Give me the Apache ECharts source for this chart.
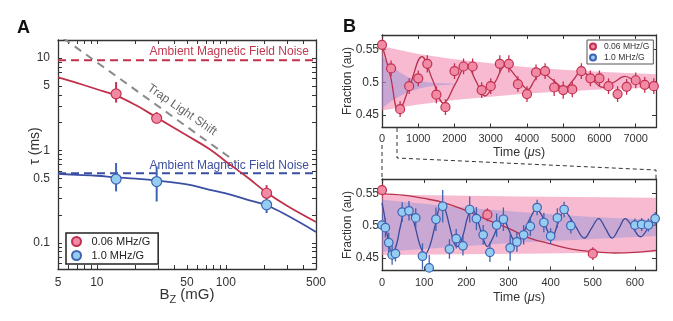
<!DOCTYPE html>
<html><head><meta charset="utf-8">
<script src="https://cdn.jsdelivr.net/npm/echarts@6/dist/echarts.min.js"></script>
<style>html,body{margin:0;padding:0;background:#fff}#c{width:673px;height:321px}</style>
</head><body><div id="c"></div>
<script>
const L = Math.log10;
const FONT = 'Liberation Sans, Arial, Helvetica, sans-serif';

// ---------- Panel A data ----------
const bzMeas = [14.1, 29.1, 207];
const tauRed = [4.1, 2.23, 0.344];
const tauRedLo = [3.3, 1.96, 0.30];
const tauRedHi = [5.5, 2.6, 0.42];
const tauBlue = [0.49, 0.46, 0.258];
const tauBlueLo = [0.36, 0.28, 0.21];
const tauBlueHi = [0.73, 0.67, 0.31];
const bzFit = [5, 7, 10, 14, 20, 29, 50, 75, 100, 150, 207, 300, 500];
const tauFitRed = [6.2, 5.4, 4.6, 3.95, 3.1, 2.28, 1.45, 1.03, 0.76, 0.5, 0.35, 0.25, 0.168];
const tauFitBlue = [0.556, 0.545, 0.532, 0.512, 0.495, 0.472, 0.428, 0.375, 0.342, 0.29, 0.255, 0.197, 0.131];
const bzTrap = [5.5, 120];
const tauTrap = [16.4, 0.75];
const noiseRed = 9.5;
const noiseBlue = 0.565;
const bzRange = [5, 500];
const tauRange = [0.052, 15.7];
const bzLabels = [5, 10, 50, 100, 500];
const bzTicks = [5,6,7,8,9,10,20,30,40,50,60,70,80,90,100,200,300,400,500];
const tauLabels = [0.1, 0.5, 1, 5, 10];
const tauTicks = [0.06,0.07,0.08,0.09,0.1,0.2,0.3,0.4,0.5,0.6,0.7,0.8,0.9,1,2,3,4,5,6,7,8,9,10];

// ---------- Panel B upper data ----------
const tUp = [0,250,500,750,1000,1250,1500,1750,2000,2250,2500,2750,3000,3250,3500,3750,4000,4250,4500,4750,5000,5250,5500,5750,6000,6250,6500,6750,7000,7250,7500];
const fracUp = [0.557,0.521,0.459,0.494,0.506,0.528,0.481,0.462,0.517,0.524,0.524,0.488,0.494,0.528,0.528,0.497,0.482,0.515,0.517,0.492,0.488,0.489,0.517,0.506,0.506,0.494,0.482,0.493,0.503,0.496,0.494];
const errUp = [0.010,0.012,0.012,0.012,0.012,0.013,0.013,0.012,0.012,0.012,0.012,0.012,0.012,0.013,0.013,0.012,0.012,0.012,0.012,0.013,0.013,0.012,0.012,0.012,0.012,0.012,0.012,0.012,0.012,0.012,0.012];
const tFitUp = [0,230,460,780,1100,1400,1700,2020,2340,2590,2840,3120,3400,3720,4030,4200,4400,4720,5040,5270,5500,5800,6100,6400,6700,6980,7250,7560];
const fitUp = [0.557,0.51,0.456,0.497,0.539,0.503,0.468,0.497,0.526,0.502,0.479,0.5,0.525,0.507,0.489,0.502,0.515,0.503,0.491,0.503,0.517,0.504,0.492,0.5,0.509,0.502,0.496,0.501];
const tEnvRedUp = [0,1000,2000,3000,4000,5000,6000,7560];
const envRedUpLo = [0.457,0.466,0.473,0.478,0.483,0.486,0.489,0.492];
const envRedUpHi = [0.555,0.543,0.535,0.529,0.523,0.519,0.516,0.512];
const tEnvBlueUp = [0,250,500,750,1000,1250,1500,2000];
const envBlueUpLo = [0.46,0.471,0.479,0.486,0.49,0.493,0.495,0.4965];
const envBlueUpHi = [0.54,0.526,0.515,0.507,0.503,0.5,0.499,0.4975];
const tUpRange = [0, 7560];
const tUpLabels = [0,1000,2000,3000,4000,5000,6000,7000];

// ---------- Panel B lower data ----------
const tLoRed = [0, 250, 500];
const fracLoRed = [0.555, 0.517, 0.457];
const errLoRed = [0.010, 0.010, 0.010];
const tLoBlue = [0,8,16,24,32,48,64,80,96,112,128,144,160,176,192,208,224,240,256,272,288,304,320,336,352,368,384,400,416,432,448,600,616,632,648];
const fracLoBlue = [0.501,0.497,0.474,0.455,0.457,0.521,0.523,0.512,0.453,0.435,0.510,0.530,0.464,0.480,0.469,0.525,0.511,0.486,0.459,0.501,0.510,0.466,0.475,0.486,0.499,0.528,0.505,0.484,0.512,0.525,0.500,0.501,0.502,0.501,0.511];
const errLoBlue = [0.018,0.015,0.015,0.015,0.012,0.015,0.015,0.015,0.02,0.02,0.018,0.025,0.015,0.015,0.015,0.02,0.018,0.015,0.015,0.018,0.018,0.02,0.015,0.015,0.015,0.012,0.015,0.012,0.015,0.012,0.012,0.01,0.01,0.01,0.01];
const tFitLoRed = [0,50,100,150,200,250,300,350,400,450,500,550,600,650];
const fitLoRed = [0.549,0.547,0.542,0.535,0.523,0.509,0.496,0.481,0.472,0.464,0.46,0.458,0.459,0.462];
const tFitLoBlue = [0,6,14,24,34,44,56,66,78,90,102,114,126,140,148,160,172,180,192,204,214,226,240,250,262,276,288,300,312,322,336,352,366,380,394,404,418,432,458,480,497,514,530,546,562,577,595,613,632,650];
const fitLoBlue = [0.535,0.515,0.48,0.457,0.47,0.5,0.524,0.522,0.5,0.47,0.456,0.47,0.5,0.53,0.528,0.5,0.472,0.468,0.485,0.515,0.525,0.51,0.48,0.468,0.48,0.5,0.51,0.495,0.478,0.475,0.49,0.512,0.525,0.515,0.49,0.484,0.505,0.522,0.5,0.481,0.496,0.511,0.496,0.481,0.496,0.511,0.497,0.483,0.497,0.513];
const tEnvRedLo = [0, 325, 650];
const envRedLoLo = [0.455, 0.457, 0.459];
const envRedLoHi = [0.548, 0.545, 0.543];
const tEnvBlueLo = [0, 160, 325, 490, 650];
const envBlueLoLo = [0.46, 0.467, 0.474, 0.479, 0.484];
const envBlueLoHi = [0.54, 0.53, 0.521, 0.514, 0.509];
const tLoRange = [0, 650];
const tLoLabels = [0,100,200,300,400,500,600];
const fracRange = [0.431, 0.572];
const fracLabels = [0.45, 0.5, 0.55];

const seriesNames = ['0.06 MHz/G', '1.0 MHz/G'];

// ---------- styles ----------
const RED_LINE = '#c0304b', BLUE_LINE = '#3a4fa3';
const RED_FILL = '#f08aa5', RED_EDGE = '#c3304f';
const BLUE_FILL = '#95cdf2', BLUE_EDGE = '#3e63b3';
const AX = '#333';

function errSeries(xi, yi, xs, lo, hi, color, lw) {
  return {
    type: 'custom', xAxisIndex: xi, yAxisIndex: yi, clip: true, silent: true, z: 4,
    data: xs.map((x, i) => [x, lo[i], hi[i]]),
    encode: { x: 0, y: [1, 2] },
    renderItem: function (params, api) {
      const x = api.value(0);
      const p1 = api.coord([x, api.value(1)]), p2 = api.coord([x, api.value(2)]);
      return { type: 'line', shape: { x1: p1[0], y1: p1[1], x2: p2[0], y2: p2[1] }, style: { stroke: color, lineWidth: lw } };
    }
  };
}
function bandSeries(xi, yi, ts, lo, hi, color) {
  return {
    type: 'custom', xAxisIndex: xi, yAxisIndex: yi, clip: true, silent: true, z: 1,
    data: ts.map((t, i) => [t, lo[i], hi[i]]),
    encode: { x: 0, y: [1, 2] },
    renderItem: function (params, api) {
      if (params.dataIndex !== 0) return;
      const top = [], bot = [];
      for (let i = 0; i < ts.length; i++) { top.push(api.coord([ts[i], hi[i]])); bot.push(api.coord([ts[i], lo[i]])); }
      return { type: 'polygon', shape: { points: top.concat(bot.reverse()) }, style: { fill: color } };
    }
  };
}
function lineSeries(xi, yi, xs, ys, color, width, extra) {
  return Object.assign({
    type: 'line', xAxisIndex: xi, yAxisIndex: yi, showSymbol: false, symbol: 'none', silent: true, z: 3,
    data: xs.map((x, i) => [x, ys[i]]), smooth: 0.4,
    lineStyle: { color: color, width: width }
  }, extra || {});
}
function scatter(xi, yi, name, xs, ys, fill, edge, size) {
  return {
    type: 'scatter', name: name, xAxisIndex: xi, yAxisIndex: yi, z: 5, symbolSize: size, silent: true,
    data: xs.map((x, i) => [x, ys[i]]),
    itemStyle: { color: fill, borderColor: edge, borderWidth: 1.2, opacity: 1 }
  };
}
function valAxis(gi, pos, min, max, labels, ticks, fmt, showLabel, fontSize, margin) {
  return {
    type: 'value', gridIndex: gi, position: pos, min: min, max: max,
    splitLine: { show: false },
    axisLine: { show: true, onZero: false, lineStyle: { color: AX, width: 1.3 } },
    axisTick: { show: true, inside: true, length: 4, customValues: ticks, lineStyle: { color: AX, width: 1 } },
    axisLabel: { show: showLabel, customValues: labels, formatter: fmt, color: '#333', fontSize: fontSize, fontFamily: FONT, margin: margin }
  };
}

const logFmtX = v => String(Math.round(Math.pow(10, v)));
const logFmtY = v => { const n = Math.pow(10, v); return n < 1 ? n.toFixed(1) : String(Math.round(n)); };
const linFmt = v => String(+(+v).toFixed(2));
const intFmt = v => String(Math.round(v));

const chart = echarts.init(document.getElementById('c'));
const option = {
  animation: false,
  backgroundColor: '#fff',
  textStyle: { fontFamily: FONT },
  grid: [
    { left: 58, top: 40, width: 258, height: 229, outerBoundsMode: 'none' },
    { left: 382, top: 35, width: 274, height: 92.5, outerBoundsMode: 'none' },
    { left: 382, top: 179, width: 274, height: 91.5, outerBoundsMode: 'none' }
  ],
  xAxis: [
    valAxis(0, 'bottom', L(bzRange[0]), L(bzRange[1]), bzLabels.map(L), bzTicks.map(L), logFmtX, true, 12, 8),
    valAxis(0, 'top', L(bzRange[0]), L(bzRange[1]), bzLabels.map(L), bzTicks.map(L), logFmtX, false, 12, 8),
    valAxis(1, 'bottom', tUpRange[0], tUpRange[1], tUpLabels, tUpLabels, intFmt, true, 11, 6),
    valAxis(1, 'top', tUpRange[0], tUpRange[1], tUpLabels, tUpLabels, intFmt, false, 11, 6),
    valAxis(2, 'bottom', tLoRange[0], tLoRange[1], tLoLabels, tLoLabels, intFmt, true, 11, 7),
    valAxis(2, 'top', tLoRange[0], tLoRange[1], tLoLabels, tLoLabels, intFmt, false, 11, 7)
  ],
  yAxis: [
    valAxis(0, 'left', L(tauRange[0]), L(tauRange[1]), tauLabels.map(L), tauTicks.map(L), logFmtY, true, 12, 8),
    valAxis(0, 'right', L(tauRange[0]), L(tauRange[1]), tauLabels.map(L), tauTicks.map(L), logFmtY, false, 12, 8),
    valAxis(1, 'left', fracRange[0], fracRange[1], fracLabels, fracLabels, linFmt, true, 12, 3),
    valAxis(1, 'right', fracRange[0], fracRange[1], fracLabels, fracLabels, linFmt, false, 12, 3),
    valAxis(2, 'left', fracRange[0], fracRange[1], fracLabels, fracLabels, linFmt, true, 12, 3),
    valAxis(2, 'right', fracRange[0], fracRange[1], fracLabels, fracLabels, linFmt, false, 12, 3)
  ],
  legend: [
    { left: 66, top: 233, orient: 'vertical', data: seriesNames, icon: 'circle', itemWidth: 20, itemHeight: 9, itemGap: 3,
      padding: [3, 8, 3, 5], borderColor: '#222', borderWidth: 1.5, backgroundColor: '#fff',
      textStyle: { fontSize: 11, color: '#222', fontFamily: FONT } },
    { left: 587, top: 40, orient: 'vertical', data: seriesNames, icon: 'circle', itemWidth: 12, itemHeight: 6, itemGap: 2,
      padding: [2, 4, 2, 2], borderColor: '#555', borderWidth: 1, backgroundColor: '#fff',
      textStyle: { fontSize: 8.5, color: '#333', fontFamily: FONT } }
  ],
  series: [
    // Panel A
    scatter(0, 0, seriesNames[0], bzMeas.map(L), tauRed.map(L), RED_FILL, RED_EDGE, 10),
    scatter(0, 0, seriesNames[1], bzMeas.map(L), tauBlue.map(L), BLUE_FILL, BLUE_EDGE, 10),
    lineSeries(0, 0, [bzRange[0], bzRange[1]].map(L), [noiseRed, noiseRed].map(L), RED_LINE, 2, { smooth: false, lineStyle: { color: RED_LINE, width: 2, type: [8, 5] } }),
    lineSeries(0, 0, [bzRange[0], bzRange[1]].map(L), [noiseBlue, noiseBlue].map(L), BLUE_LINE, 2, { smooth: false, lineStyle: { color: BLUE_LINE, width: 2, type: [8, 5] } }),
    lineSeries(0, 0, bzTrap.map(L), tauTrap.map(L), '#8a8a8a', 2, { smooth: false, z: 2, lineStyle: { color: '#8a8a8a', width: 2, type: [8, 6] } }),
    lineSeries(0, 0, bzFit.map(L), tauFitRed.map(L), RED_LINE, 1.8),
    lineSeries(0, 0, bzFit.map(L), tauFitBlue.map(L), BLUE_LINE, 1.8),
    errSeries(0, 0, bzMeas.map(L), tauRedLo.map(L), tauRedHi.map(L), RED_EDGE, 2),
    errSeries(0, 0, bzMeas.map(L), tauBlueLo.map(L), tauBlueHi.map(L), BLUE_EDGE, 2),
    // Panel B upper
    bandSeries(2, 2, tEnvRedUp, envRedUpLo, envRedUpHi, 'rgba(240,130,170,0.55)'),
    bandSeries(2, 2, tEnvBlueUp, envBlueUpLo, envBlueUpHi, 'rgba(110,130,220,0.35)'),
    lineSeries(2, 2, tFitUp, fitUp, '#b8304c', 1.3),
    errSeries(2, 2, tUp, fracUp.map((v, i) => v - errUp[i]), fracUp.map((v, i) => v + errUp[i]), RED_EDGE, 1.3),
    scatter(2, 2, seriesNames[0], tUp, fracUp, RED_FILL, RED_EDGE, 9),
    // Panel B lower
    bandSeries(4, 4, tEnvRedLo, envRedLoLo, envRedLoHi, 'rgba(240,130,170,0.55)'),
    bandSeries(4, 4, tEnvBlueLo, envBlueLoLo, envBlueLoHi, 'rgba(110,130,220,0.32)'),
    lineSeries(4, 4, tFitLoRed, fitLoRed, '#b8304c', 1.3),
    lineSeries(4, 4, tFitLoBlue, fitLoBlue, '#3a4a9a', 1.3),
    errSeries(4, 4, tLoBlue, fracLoBlue.map((v, i) => v - errLoBlue[i]), fracLoBlue.map((v, i) => v + errLoBlue[i]), BLUE_EDGE, 1.3),
    scatter(4, 4, seriesNames[1], tLoBlue, fracLoBlue, BLUE_FILL, BLUE_EDGE, 8.5),
    errSeries(4, 4, tLoRed, fracLoRed.map((v, i) => v - errLoRed[i]), fracLoRed.map((v, i) => v + errLoRed[i]), RED_EDGE, 1.3),
    scatter(4, 4, seriesNames[0], tLoRed, fracLoRed, RED_FILL, RED_EDGE, 9)
  ],
  graphic: [
    { type: 'text', x: 17, y: 19, style: { text: 'A', font: 'bold 18px ' + FONT, fill: '#111' } },
    { type: 'text', x: 343, y: 18, style: { text: 'B', font: 'bold 18px ' + FONT, fill: '#111' } },
    { type: 'text', x: 309, y: 52, style: { text: 'Ambient Magnetic Field Noise', font: '12px ' + FONT, fill: '#c0394f', align: 'right', verticalAlign: 'middle', textAlign: 'right', textVerticalAlign: 'middle' } },
    { type: 'text', x: 309, y: 166, style: { text: 'Ambient Magnetic Field Noise', font: '12px ' + FONT, fill: '#3d4f9f', align: 'right', verticalAlign: 'middle', textAlign: 'right', textVerticalAlign: 'middle' } },
    { type: 'text', x: 182, y: 110, rotation: -0.604, style: { text: 'Trap Light Shift', font: '12px ' + FONT, fill: '#666', align: 'center', verticalAlign: 'middle', textAlign: 'center', textVerticalAlign: 'middle' } },
    { type: 'text', x: 35, y: 146, rotation: Math.PI / 2, style: { text: 'τ (ms)', font: '14px ' + FONT, fill: '#333', align: 'center', verticalAlign: 'middle', textAlign: 'center', textVerticalAlign: 'middle' } },
    { type: 'text', x: 187, y: 295, style: { text: 'B{s|Z} (mG)', font: '15px ' + FONT, fill: '#333', align: 'center', verticalAlign: 'middle', textAlign: 'center', textVerticalAlign: 'middle',
        rich: { s: { fontSize: 11, fontFamily: FONT, fill: '#333', padding: [9, 0, 0, 0] } } } },
    { type: 'text', x: 348, y: 81, rotation: Math.PI / 2, style: { text: 'Fraction (au)', font: '12px ' + FONT, fill: '#333', align: 'center', verticalAlign: 'middle', textAlign: 'center', textVerticalAlign: 'middle' } },
    { type: 'text', x: 348, y: 225, rotation: Math.PI / 2, style: { text: 'Fraction (au)', font: '12px ' + FONT, fill: '#333', align: 'center', verticalAlign: 'middle', textAlign: 'center', textVerticalAlign: 'middle' } },
    { type: 'text', x: 519, y: 153, style: { text: 'Time ({i|μ}s)', font: '12.5px ' + FONT, fill: '#333', align: 'center', verticalAlign: 'middle', textAlign: 'center', textVerticalAlign: 'middle',
        rich: { i: { fontStyle: 'italic', fontSize: 12.5, fontFamily: FONT, fill: '#333' } } } },
    { type: 'text', x: 519, y: 298, style: { text: 'Time ({i|μ}s)', font: '12.5px ' + FONT, fill: '#333', align: 'center', verticalAlign: 'middle', textAlign: 'center', textVerticalAlign: 'middle',
        rich: { i: { fontStyle: 'italic', fontSize: 12.5, fontFamily: FONT, fill: '#333' } } } },
    { type: 'polyline', shape: { points: [[382, 145], [382, 179]] }, style: { stroke: '#333', lineWidth: 1, lineDash: [4, 3], fill: null } },
    { type: 'polyline', shape: { points: [[397, 128], [397, 158], [656, 170], [656, 179]] }, style: { stroke: '#333', lineWidth: 1, lineDash: [4, 3], fill: null } }
  ]
};
chart.setOption(option);
</script></body></html>
